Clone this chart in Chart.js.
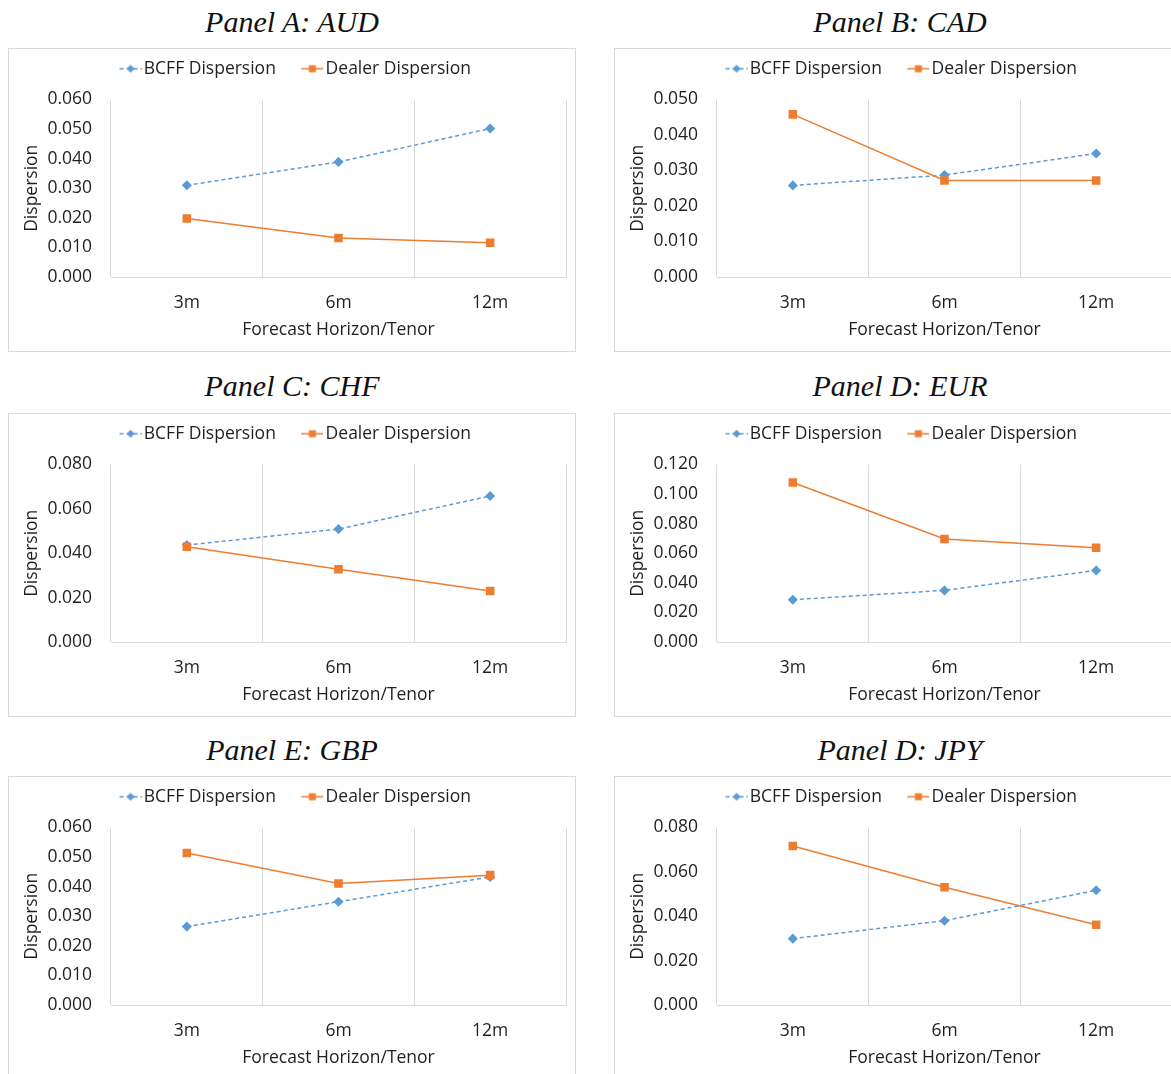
<!DOCTYPE html>
<html>
<head>
<meta charset="utf-8">
<script src="https://cdn.jsdelivr.net/npm/chart.js"></script>
<style>
  html, body { margin: 0; padding: 0; background: #fff; }
  body { position: relative; width: 1171px; height: 1074px; overflow: hidden; }
  .panel-title {
    position: absolute; width: 320px; text-align: center;
    font: italic 30px "Liberation Serif", serif; line-height: 30px; color: #111;
  }
  .box { position: absolute; width: 566px; height: 302px; border: 1px solid #d9d9d9; }
  .box canvas { display: block; }
</style>
</head>
<body>
<script>
// data
const horizons = ['3m', '6m', '12m'];
const seriesNames = ['BCFF Dispersion', 'Dealer Dispersion'];
const panelTitles = ['Panel A: AUD', 'Panel B: CAD', 'Panel C: CHF', 'Panel D: EUR', 'Panel E: GBP', 'Panel D: JPY'];

const bcffAUD = [0.0310, 0.0389, 0.0502];
const dealerAUD = [0.0198, 0.0132, 0.0116];
const bcffCAD = [0.0258, 0.0287, 0.0348];
const dealerCAD = [0.0458, 0.0272, 0.0272];
const bcffCHF = [0.0437, 0.0509, 0.0658];
const dealerCHF = [0.0429, 0.0328, 0.0230];
const bcffEUR = [0.0286, 0.0349, 0.0484];
const dealerEUR = [0.1078, 0.0696, 0.0637];
const bcffGBP = [0.0265, 0.0349, 0.0433];
const dealerGBP = [0.0514, 0.0411, 0.0439];
const bcffJPY = [0.0299, 0.0380, 0.0517];
const dealerJPY = [0.0717, 0.0531, 0.0362];

const bcffSeries = [bcffAUD, bcffCAD, bcffCHF, bcffEUR, bcffGBP, bcffJPY];
const dealerSeries = [dealerAUD, dealerCAD, dealerCHF, dealerEUR, dealerGBP, dealerJPY];
const axisMax = [0.06, 0.05, 0.08, 0.12, 0.06, 0.08];
const axisStep = [0.01, 0.01, 0.02, 0.02, 0.01, 0.02];

// page layout
const boxLeft = [8, 614];
const boxTop = [48, 413, 776];
const titleCenter = [292, 900];
const titleTop = [7, 371, 735];

const blue = '#5b9bd5';
const orange = '#ed7d31';
const textColor = '#1f1f1f';
const gridColor = '#d9d9d9';
const axisFont = { family: 'Open Sans', size: 17.5 };

// legend marks: line with marker, drawn on the right half of the image
function legendMark(color, dashed, shape) {
  const c = document.createElement('canvas');
  c.width = 44; c.height = 10;
  const g = c.getContext('2d');
  g.strokeStyle = color; g.fillStyle = color; g.lineWidth = 1.5;
  if (dashed) g.setLineDash([4, 3]);
  g.beginPath(); g.moveTo(22, 5); g.lineTo(44, 5); g.stroke();
  g.setLineDash([]);
  if (shape === 'diamond') {
    g.beginPath(); g.moveTo(33, 1); g.lineTo(37, 5); g.lineTo(33, 9); g.lineTo(29, 5); g.closePath(); g.fill();
  } else {
    g.fillRect(29.5, 1.5, 7, 7);
  }
  return c;
}
const legendMarks = [legendMark(blue, true, 'diamond'), legendMark(orange, false, 'square')];

// extra room under the legend
const legendGap = {
  id: 'legendGap',
  beforeInit(chart) {
    const fit = chart.legend.fit;
    chart.legend.fit = function () {
      fit.call(this);
      this.height += 12;
    };
  }
};

const defaultLabels = Chart.defaults.plugins.legend.labels.generateLabels;

function makeChart(canvas, i) {
  return new Chart(canvas, {
    type: 'line',
    data: {
      labels: horizons,
      datasets: [
        {
          label: seriesNames[0],
          data: bcffSeries[i],
          borderColor: blue,
          backgroundColor: blue,
          borderWidth: 1.5,
          borderDash: [4, 3],
          pointStyle: 'rectRot',
          pointRadius: 4,
          pointHoverRadius: 4,
          order: 1
        },
        {
          label: seriesNames[1],
          data: dealerSeries[i],
          borderColor: orange,
          backgroundColor: orange,
          borderWidth: 1.5,
          pointStyle: 'rect',
          pointRadius: 5,
          pointHoverRadius: 5,
          order: 0
        }
      ]
    },
    options: {
      responsive: false,
      animation: false,
      layout: { padding: { left: 0, right: 9, top: 1, bottom: 0 } },
      plugins: {
        tooltip: { enabled: false },
        legend: {
          position: 'top',
          labels: {
            usePointStyle: true,
            pointStyleWidth: 31,
            padding: 10,
            color: textColor,
            font: axisFont,
            sort: (a, b) => a.datasetIndex - b.datasetIndex,
            generateLabels(chart) {
              return defaultLabels(chart).map(item => {
                item.pointStyle = legendMarks[item.datasetIndex];
                return item;
              });
            }
          }
        }
      },
      scales: {
        x: {
          offset: true,
          grid: { offset: true, color: gridColor, drawTicks: false },
          border: { color: gridColor },
          ticks: { padding: 16, color: textColor, font: axisFont },
          title: {
            display: true, text: 'Forecast Horizon/Tenor',
            color: textColor, font: axisFont, padding: { top: 0, bottom: 10 }
          },
          afterFit(scale) { scale.height = 74; }
        },
        y: {
          min: 0,
          max: axisMax[i],
          grid: { display: false, drawTicks: false },
          border: { display: false },
          ticks: {
            stepSize: axisStep[i],
            padding: 19,
            color: textColor,
            font: axisFont,
            callback: v => v.toFixed(3)
          },
          title: {
            display: true, text: 'Dispersion',
            color: textColor, font: axisFont, padding: { top: 13, bottom: 0 }
          },
          afterFit(scale) { scale.width = 102; }
        }
      }
    },
    plugins: [legendGap]
  });
}

panelTitles.forEach((title, i) => {
  const col = i % 2, row = Math.floor(i / 2);
  const t = document.createElement('div');
  t.className = 'panel-title';
  t.style.left = (titleCenter[col] - 160) + 'px';
  t.style.top = titleTop[row] + 'px';
  t.textContent = title;
  document.body.appendChild(t);

  const box = document.createElement('div');
  box.className = 'box';
  box.style.left = boxLeft[col] + 'px';
  box.style.top = boxTop[row] + 'px';
  const canvas = document.createElement('canvas');
  canvas.width = 566;
  canvas.height = 302;
  box.appendChild(canvas);
  document.body.appendChild(box);
  makeChart(canvas, i);
});
</script>
</body>
</html>
